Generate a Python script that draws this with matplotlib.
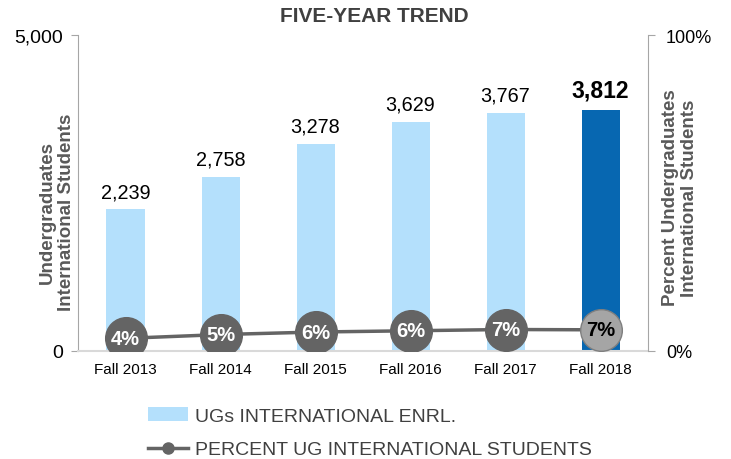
import matplotlib.pyplot as plt
from matplotlib.lines import Line2D
from matplotlib.patches import Patch

plt.rcParams['font.family'] = ['Liberation Sans', 'DejaVu Sans']

# data
terms = ['Fall 2013', 'Fall 2014', 'Fall 2015', 'Fall 2016', 'Fall 2017', 'Fall 2018']
enrl = [2239, 2758, 3278, 3629, 3767, 3812]
pct = [4.0, 5.2, 6.0, 6.4, 6.8, 6.7]
pct_labels = ['4%', '5%', '6%', '6%', '7%', '7%']

light_blue = '#B4E0FC'
dark_blue = '#0767B1'
gray_dark = '#646464'
gray_light = '#A5A5A5'
axis_gray = '#A6A6A6'

fig = plt.figure(figsize=(7.31, 4.60), dpi=100)
ax = fig.add_axes([0.1067, 0.2348, 0.7798, 0.6869])
x = list(range(len(terms)))

colors = [light_blue] * (len(terms) - 1) + [dark_blue]
ax.bar(x, enrl, width=0.4, color=colors, zorder=2)
for i, v in enumerate(enrl):
    last = i == len(enrl) - 1
    ax.text(i, v + 130, f'{v:,}', ha='center', va='bottom',
            fontsize=16.5 if last else 14.3, fontweight='bold' if last else 'normal',
            color='black')

ax.set_xlim(-0.5, len(terms) - 0.5)
ax.set_ylim(0, 5000)
ax.set_yticks([0, 5000])
ax.set_yticklabels(['0', '5,000'], fontsize=14)
ax.set_xticks(x)
ax.set_xticklabels(terms, fontsize=11)
ax.tick_params(axis='x', length=0, pad=8)
ax.tick_params(axis='y', length=5, color=axis_gray, pad=6)
for s in ['top', 'right']:
    ax.spines[s].set_visible(False)
ax.spines['left'].set_color(axis_gray)
ax.spines['bottom'].set_color('#D9D9D9')
ax.spines['bottom'].set_linewidth(1.5)
ax.set_ylabel('Undergraduates\nInternational Students', fontsize=13.5,
              fontweight='bold', color='#595959', linespacing=1.15)
ax.yaxis.set_label_coords(-0.006, 0.443)
fig.text(0.512, 1 - 16 / 460, 'FIVE-YEAR TREND', ha='center', va='center',
         fontsize=15, fontweight='bold', color='#404040')

ax2 = ax.twinx()
ax2.set_ylim(0, 100)
ax2.set_yticks([0, 100])
ax2.set_yticklabels(['0%', '100%'], fontsize=13)
ax2.tick_params(axis='y', length=5, color=axis_gray, pad=8)
for s in ['top', 'left', 'bottom']:
    ax2.spines[s].set_visible(False)
ax2.spines['right'].set_color(axis_gray)
ax2.set_ylabel('Percent Undergraduates\nInternational Students', fontsize=13.5,
               fontweight='bold', color='#595959', linespacing=1.15)
ax2.yaxis.set_label_coords(1.024, 0.487)

ax2.plot(x, pct, color=gray_dark, lw=2.5, zorder=3)
ax2.plot(x[:-1], pct[:-1], 'o', ms=30, color=gray_dark, zorder=4)
ax2.plot(x[-1:], pct[-1:], 'o', ms=30, markerfacecolor=gray_light,
         markeredgecolor='#7F7F7F', markeredgewidth=1, zorder=4)
for i, (p, lab) in enumerate(zip(pct, pct_labels)):
    last = i == len(pct) - 1
    ax2.text(i, p, lab, ha='center', va='center', fontsize=14.5, fontweight='bold',
             color='black' if last else 'white', zorder=5)

handles = [Patch(facecolor=light_blue, edgecolor='none'),
           Line2D([0], [0], color=gray_dark, lw=2.5, marker='o', ms=8)]
fig.legend(handles, ['UGs INTERNATIONAL ENRL.', 'PERCENT UG INTERNATIONAL STUDENTS'],
           loc='upper left', bbox_to_anchor=(0.2025, 0.113), frameon=False,
           fontsize=14, labelcolor='#404040', handlelength=2.05, handletextpad=0.35,
           labelspacing=0.83, borderaxespad=0, borderpad=0)

fig.savefig('out.png', dpi=100)
